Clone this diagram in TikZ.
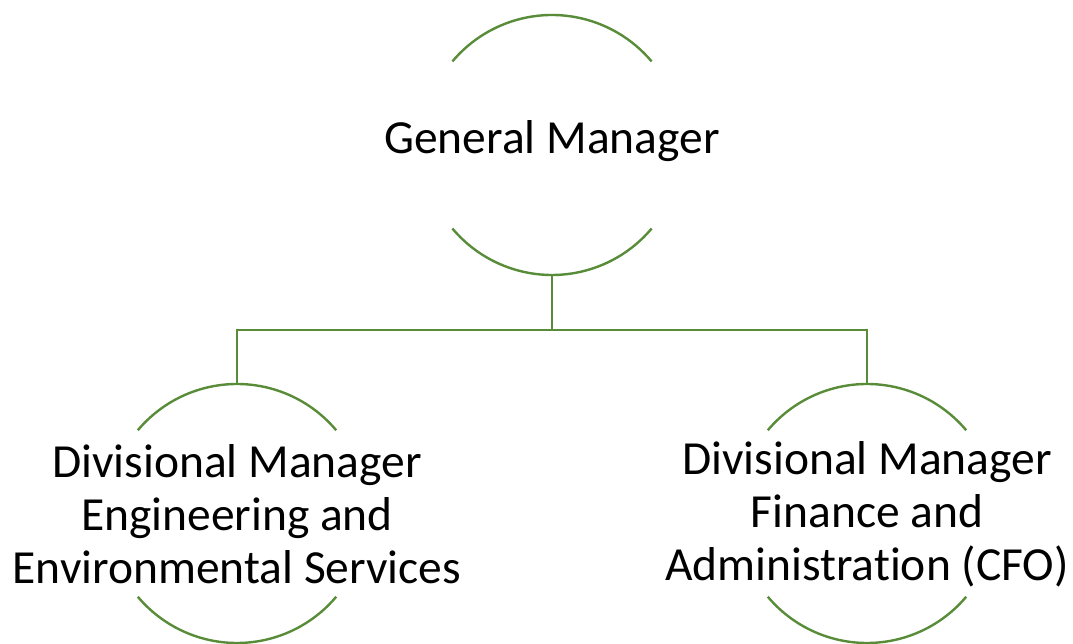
\documentclass[tikz,border=0pt]{standalone}
\usepackage{fontspec}
\setmainfont[Ligatures=NoCommon]{Carlito}
\definecolor{orgline}{RGB}{88,140,56}
\begin{document}
\begin{tikzpicture}[x=1pt,y=1pt,
  ring/.style={circle,draw=none,inner sep=0pt,outer sep=0pt,minimum size=#1},
  arcline/.style={draw=orgline,line width=2.4pt},
  link/.style={draw=orgline,line width=2.4pt},
  title/.style={font=\fontsize{47.5}{53}\selectfont,align=center,inner sep=0pt}]
  \useasboundingbox (0,0) rectangle (1073,644);

  % circles that carry the two visible arcs of each position
  \node[ring=260pt] (gm) at (552,499) {};
  \node[ring=259pt] (eng) at (237,130.5) {};
  \node[ring=259pt] (fin) at (867,130.5) {};

  \foreach \n/\r in {gm/130,eng/129.5,fin/129.5}{
    \draw[arcline] (\n.140) arc[start angle=140,end angle=40,radius=\r pt];
    \draw[arcline] (\n.220) arc[start angle=220,end angle=320,radius=\r pt];
  }

  % position titles
  \node[title,anchor=base] (gmt) at (552,490) {General Manager};
  \node[title] (engt) at (237,129.5) {Divisional Manager\\Engineering and\\Environmental Services};
  \node[title] (fint) at (867,129.5) {Divisional Manager\\Finance and\\Administration (CFO)};

  % reporting lines
  \coordinate (bus) at (552,314);
  \draw[link] (gm.south) -- (bus) -| (eng.north);
  \draw[link] (bus) -| (fin.north);
\end{tikzpicture}
\end{document}
